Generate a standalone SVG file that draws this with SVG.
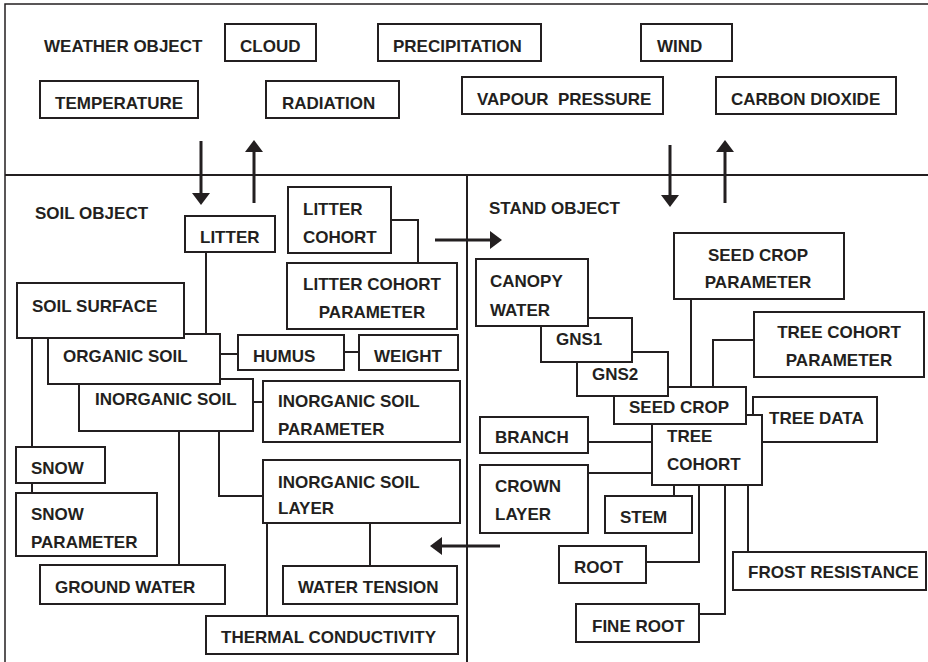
<svg xmlns="http://www.w3.org/2000/svg" width="928" height="662" viewBox="0 0 928 662">
<style>
.b{fill:#fff;stroke:#231f20;stroke-width:2}
.t{font-family:"Liberation Sans",Arial,sans-serif;font-weight:bold;font-size:17px;fill:#231f20}
.m{text-anchor:middle}
.c{fill:none;stroke:#231f20;stroke-width:2}
.a{fill:none;stroke:#231f20;stroke-width:3;marker-end:url(#ah)}
.f{fill:none;stroke:#231f20}
</style>
<defs>
<marker id="ah" markerUnits="userSpaceOnUse" markerWidth="12" markerHeight="18" viewBox="0 0 12 18" refX="0" refY="9" orient="auto">
<path d="M0,0 L12,9 L0,18 Z" fill="#231f20"/>
</marker>
</defs>
<rect width="928" height="662" fill="#fff"/>
<g id="frame">
<path class="f" stroke="#777" stroke-width="1.5" d="M5,662 V4 H928"/>
<path class="f" stroke-width="2" d="M5,175 H928 M467,175 V662"/>
</g>
<g id="labels">
<text class="t" x="44" y="52">WEATHER OBJECT</text>
<text class="t" x="35" y="219">SOIL OBJECT</text>
<text class="t" x="489" y="214">STAND OBJECT</text>
</g>
<g id="connectors">
<path class="a" d="M201,141 V193"/>
<path class="a" d="M254,203 V152"/>
<path class="a" d="M670,145 V195"/>
<path class="a" d="M725,203 V152"/>
<path class="a" d="M435,240 H490"/>
<path class="a" d="M500,546 H442"/>
<path class="c" d="M391,220 H418 V263"/>
<path class="c" d="M206,252 V334"/>
<path class="c" d="M220,354 H238"/>
<path class="c" d="M344,352 H359"/>
<path class="c" d="M253,402 H263"/>
<path class="c" d="M32,338 V447"/>
<path class="c" d="M32,483 V493"/>
<path class="c" d="M179,431 V565"/>
<path class="c" d="M219,431 V496 H263"/>
<path class="c" d="M370,523 V566"/>
<path class="c" d="M267,523 V616"/>
<path class="c" d="M691,299 V387"/>
<path class="c" d="M754,340 H713 V387"/>
<path class="c" d="M588,442 H652"/>
<path class="c" d="M588,473 H652"/>
<path class="c" d="M674,485 V496"/>
<path class="c" d="M699,485 V562 H646"/>
<path class="c" d="M725,485 V614 H699"/>
<path class="c" d="M748,485 V552"/>
</g>
<g id="cloud"><rect class="b" x="225" y="24" width="91" height="37"/><text class="t" x="240" y="52">CLOUD</text></g>
<g id="precipitation"><rect class="b" x="378" y="24" width="163" height="37"/><text class="t" x="393" y="52">PRECIPITATION</text></g>
<g id="wind"><rect class="b" x="641" y="24" width="91" height="37"/><text class="t" x="657" y="52">WIND</text></g>
<g id="temperature"><rect class="b" x="40" y="81" width="158" height="37"/><text class="t" x="55" y="109">TEMPERATURE</text></g>
<g id="radiation"><rect class="b" x="266" y="81" width="133" height="37"/><text class="t" x="282" y="109">RADIATION</text></g>
<g id="vapour-pressure"><rect class="b" x="462" y="77" width="201" height="37"/><text class="t" x="477" y="105" xml:space="preserve">VAPOUR  PRESSURE</text></g>
<g id="carbon-dioxide"><rect class="b" x="716" y="77" width="180" height="37"/><text class="t" x="731" y="105">CARBON DIOXIDE</text></g>
<g id="litter"><rect class="b" x="185" y="216" width="90" height="36"/><text class="t" x="200" y="243">LITTER</text></g>
<g id="litter-cohort"><rect class="b" x="288" y="187" width="103" height="66"/><text class="t" x="303" y="215">LITTER</text><text class="t" x="303" y="243">COHORT</text></g>
<g id="litter-cohort-parameter"><rect class="b" x="287" y="263" width="170" height="66"/><text class="t m" x="372" y="290">LITTER COHORT</text><text class="t m" x="372" y="318">PARAMETER</text></g>
<g id="inorganic-soil"><rect class="b" x="79" y="379" width="174" height="52"/><text class="t" x="95" y="405">INORGANIC SOIL</text></g>
<g id="organic-soil"><rect class="b" x="48" y="334" width="172" height="50"/><text class="t" x="63" y="362">ORGANIC SOIL</text></g>
<g id="soil-surface"><rect class="b" x="17" y="283" width="167" height="55"/><text class="t" x="32" y="312">SOIL SURFACE</text></g>
<g id="humus"><rect class="b" x="238" y="335" width="106" height="35"/><text class="t" x="253" y="362">HUMUS</text></g>
<g id="weight"><rect class="b" x="359" y="335" width="99" height="35"/><text class="t" x="374" y="362">WEIGHT</text></g>
<g id="inorganic-soil-parameter"><rect class="b" x="263" y="381" width="197" height="61"/><text class="t" x="278" y="407">INORGANIC SOIL</text><text class="t" x="278" y="435">PARAMETER</text></g>
<g id="snow"><rect class="b" x="16" y="447" width="89" height="36"/><text class="t" x="31" y="474">SNOW</text></g>
<g id="snow-parameter"><rect class="b" x="16" y="493" width="141" height="63"/><text class="t" x="31" y="520">SNOW</text><text class="t" x="31" y="548">PARAMETER</text></g>
<g id="inorganic-soil-layer"><rect class="b" x="263" y="460" width="197" height="63"/><text class="t" x="278" y="488">INORGANIC SOIL</text><text class="t" x="278" y="514">LAYER</text></g>
<g id="ground-water"><rect class="b" x="40" y="565" width="185" height="39"/><text class="t" x="55" y="593">GROUND WATER</text></g>
<g id="water-tension"><rect class="b" x="283" y="566" width="174" height="38"/><text class="t" x="298" y="593">WATER TENSION</text></g>
<g id="thermal-conductivity"><rect class="b" x="206" y="616" width="252" height="38"/><text class="t" x="221" y="643">THERMAL CONDUCTIVITY</text></g>
<g id="seed-crop-parameter"><rect class="b" x="674" y="233" width="170" height="66"/><text class="t m" x="758" y="261">SEED CROP</text><text class="t m" x="758" y="288">PARAMETER</text></g>
<g id="tree-cohort-parameter"><rect class="b" x="754" y="312" width="170" height="65"/><text class="t m" x="839" y="338">TREE COHORT</text><text class="t m" x="839" y="366">PARAMETER</text></g>
<g id="tree-data"><rect class="b" x="753" y="397" width="124" height="45"/><text class="t" x="769" y="424">TREE DATA</text></g>
<g id="tree-cohort"><rect class="b" x="652" y="415" width="110" height="70"/><text class="t" x="667" y="442">TREE</text><text class="t" x="667" y="470">COHORT</text></g>
<g id="seed-crop"><rect class="b" x="614" y="387" width="132" height="37"/><text class="t" x="629" y="413">SEED CROP</text></g>
<g id="gns2"><rect class="b" x="577" y="352" width="91" height="44"/><text class="t" x="592" y="380">GNS2</text></g>
<g id="gns1"><rect class="b" x="541" y="318" width="91" height="44"/><text class="t" x="556" y="345">GNS1</text></g>
<g id="canopy-water"><rect class="b" x="476" y="259" width="112" height="67"/><text class="t" x="490" y="287">CANOPY</text><text class="t" x="490" y="316">WATER</text></g>
<g id="branch"><rect class="b" x="480" y="417" width="108" height="36"/><text class="t" x="495" y="443">BRANCH</text></g>
<g id="crown-layer"><rect class="b" x="480" y="465" width="108" height="68"/><text class="t" x="495" y="492">CROWN</text><text class="t" x="495" y="520">LAYER</text></g>
<g id="stem"><rect class="b" x="605" y="496" width="87" height="37"/><text class="t" x="620" y="523">STEM</text></g>
<g id="root"><rect class="b" x="559" y="546" width="87" height="37"/><text class="t" x="574" y="573">ROOT</text></g>
<g id="fine-root"><rect class="b" x="576" y="604" width="123" height="38"/><text class="t" x="592" y="632">FINE ROOT</text></g>
<g id="frost-resistance"><rect class="b" x="733" y="552" width="193" height="38"/><text class="t" x="748" y="578">FROST RESISTANCE</text></g>
</svg>
